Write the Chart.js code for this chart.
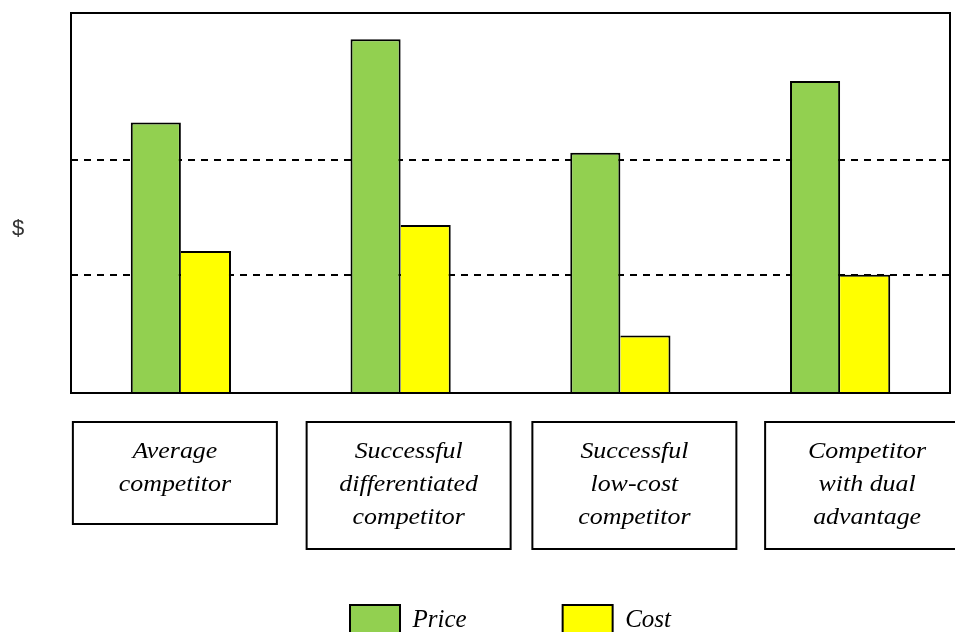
<!DOCTYPE html>
<html>
<head>
<meta charset="utf-8">
<script src="https://cdn.jsdelivr.net/npm/chart.js@4"></script>
<style>
  html, body { margin: 0; padding: 0; background: #ffffff; }
  #wrap { width: 955px; height: 632px; position: relative; }
</style>
</head>
<body>
<div id="wrap"><canvas id="c" width="955" height="632"></canvas></div>
<script>
// ---- data ----
const categories = [
  ["Average", "competitor"],
  ["Successful", "differentiated", "competitor"],
  ["Successful", "low-cost", "competitor"],
  ["Competitor", "with dual", "advantage"]
];
const seriesNames = ["Price", "Cost"];
const priceValues = [71.2, 93.1, 63.2, 82.1];
const costValues = [37.4, 44.2, 15.1, 31.1];
const gridValues = [31.1, 61.2];
const axisTitle = "$";

// ---- plugins ----
const framePlugin = {
  id: 'frame',
  afterDatasetsDraw(chart) {
    const a = chart.chartArea, ctx = chart.ctx;
    ctx.save();
    ctx.strokeStyle = '#000';
    ctx.lineWidth = 2;
    ctx.strokeRect(a.left, a.top, a.right - a.left, a.bottom - a.top);
    ctx.restore();
  }
};

const categoryBoxPlugin = {
  id: 'categoryBoxes',
  afterDraw(chart, args, opts) {
    const x = chart.scales.x, a = chart.chartArea, ctx = chart.ctx;
    ctx.save();
    ctx.strokeStyle = '#000';
    ctx.lineWidth = 2;
    categories.forEach((lines, i) => {
      const cx = x.getPixelForValue(i) + opts.shift[i];
      const top = a.bottom + opts.gap;
      const h = opts.baseHeight + opts.perLine * lines.length;
      ctx.fillStyle = '#fff';
      ctx.fillRect(cx - opts.width / 2, top, opts.width, h);
      ctx.strokeRect(cx - opts.width / 2, top, opts.width, h);
      ctx.fillStyle = '#000';
      ctx.font = opts.font;
      ctx.textAlign = 'center';
      ctx.textBaseline = 'alphabetic';
      lines.forEach((t, k) => {
        ctx.save();
        ctx.translate(cx, top + opts.firstBaseline + opts.lineHeight * k);
        ctx.scale(opts.stretch, 1);
        ctx.fillText(t, 0, 0);
        ctx.restore();
      });
    });
    // y-axis "$" label
    ctx.font = opts.titleFont;
    ctx.fillStyle = '#333';
    ctx.textAlign = 'center';
    ctx.textBaseline = 'middle';
    ctx.fillText(axisTitle, a.left - opts.titleDx, (a.top + a.bottom) / 2 + opts.titleDy);
    ctx.restore();
  }
};

// ---- chart ----
new Chart(document.getElementById('c'), {
  type: 'bar',
  data: {
    labels: categories,
    datasets: [
      {
        label: seriesNames[0],
        data: priceValues,
        backgroundColor: '#92D050',
        borderColor: '#000',
        borderWidth: { top: 2, left: 2, right: 2, bottom: 0 },
        borderSkipped: false
      },
      {
        label: seriesNames[1],
        data: costValues,
        backgroundColor: '#FFFF00',
        borderColor: '#000',
        borderWidth: { top: 2, left: 0, right: 2, bottom: 0 },
        borderSkipped: false
      }
    ]
  },
  options: {
    responsive: false,
    animation: false,
    devicePixelRatio: 1,
    layout: { padding: { left: 71, right: 5, top: 13, bottom: -13 } },
    datasets: { bar: { categoryPercentage: 0.456, barPercentage: 1.0 } },
    scales: {
      x: {
        grid: { display: false, drawTicks: false },
        border: { display: false },
        ticks: { display: false },
        afterFit(scale) { scale.height = 116; }
      },
      y: {
        min: 0,
        max: 100,
        grid: { display: true, color: '#000', lineWidth: 2, drawTicks: false },
        border: { display: false, dash: [7, 6] },
        ticks: { display: false },
        afterBuildTicks(scale) { scale.ticks = gridValues.map(v => ({ value: v })); },
        afterFit(scale) { scale.width = 0; }
      }
    },
    plugins: {
      tooltip: { enabled: false },
      legend: {
        position: 'bottom',
        fullSize: false,
        labels: {
          boxWidth: 50,
          boxHeight: 30,
          padding: 96,
          color: '#000',
          font: { family: "'Liberation Serif', 'Times New Roman', serif", style: 'italic', size: 25 },
          generateLabels(chart) {
            return chart.data.datasets.map((ds, i) => ({
              text: ds.label,
              fillStyle: ds.backgroundColor,
              strokeStyle: '#000',
              lineWidth: 2,
              hidden: false,
              datasetIndex: i,
              fontColor: '#000'
            }));
          }
        }
      },
      categoryBoxes: {
        font: "italic 24px 'Liberation Serif', 'Times New Roman', serif",
        titleFont: "22px 'Liberation Sans', Arial, sans-serif",
        stretch: 1.08,
        shift: [-6, 8, 14, 27],
        width: 204,
        gap: 29,
        baseHeight: 52,
        perLine: 25,
        firstBaseline: 36,
        lineHeight: 33,
        titleDx: 53,
        titleDy: 26
      }
    }
  },
  plugins: [framePlugin, categoryBoxPlugin]
});
</script>
</body>
</html>
